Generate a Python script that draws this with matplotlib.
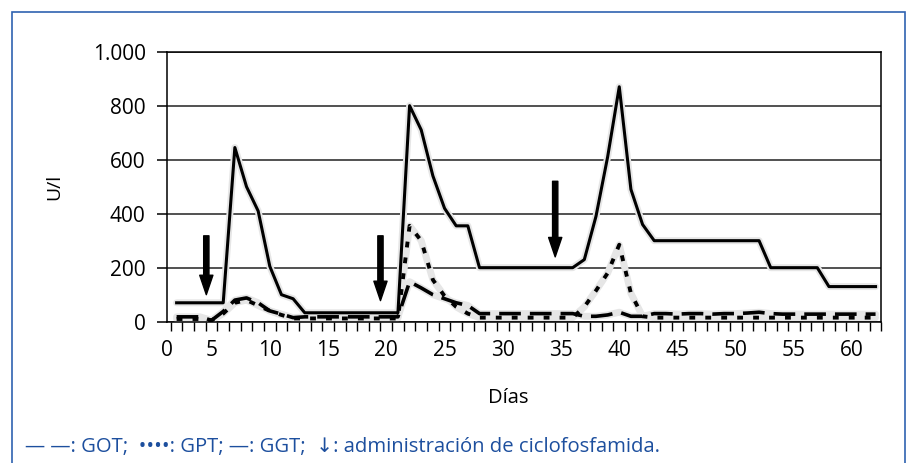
import numpy as np
import matplotlib
matplotlib.use('Agg')
import matplotlib.pyplot as plt
from matplotlib.patches import Rectangle

plt.rcParams['font.family'] = ['Open Sans', 'DejaVu Sans']

# days 2..62
dias = np.arange(2, 63)

ggt = ([70] * 5 + [645, 500, 410, 205, 100, 85] + [33] * 9
       + [800, 710, 540, 420, 355, 355] + [200] * 9
       + [230, 390, 610, 870, 490, 360] + [300] * 10 + [200] * 5 + [130] * 5)

got = ([18, 18, 18, 5, 38, 80, 88, 70, 40, 28, 15] + [18] * 9
       + [148, 125, 100, 85, 70, 60] + [30] * 9
       + [20, 20, 25, 35, 20, 20]
       + [30, 30, 28, 30, 30, 28, 30, 30, 32, 35, 30, 28, 28, 28, 28, 28, 28, 28, 28, 28])

gpt = ([10, 10, 10, 5, 30, 70, 80, 60, 40, 25, 12] + [12] * 9
       + [355, 300, 155, 95, 55, 30] + [15] * 9
       + [55, 115, 180, 285, 105, 20] + [15] * 20)

# ciclofosfamida administration arrows (day, top, tip)
flecha_dia = [4.55, 19.5, 34.5]
flecha_top = [318, 318, 520]
flecha_tip = [100, 78, 240]

yticks = [0, 200, 400, 600, 800, 1000]
ytick_labels = ['0', '200', '400', '600', '800', '1.000']
xticks = [1.15, 5, 10, 15, 20, 25, 30, 35, 40, 45, 50, 55, 60]
xtick_labels = ['0', '5', '10', '15', '20', '25', '30', '35', '40', '45', '50', '55', '60']

fig = plt.figure(figsize=(9.09, 4.63), dpi=100)
ax = fig.add_axes([0.1834, 0.3052, 0.7862, 0.5832])

halo = '#e6e6e6'
for serie in (ggt, got, gpt):
    ax.plot(dias, serie, color=halo, lw=5, solid_capstyle='round', zorder=1)

ax.plot(dias, ggt, color='black', lw=2.2, zorder=4)
ax.plot(dias, got, color='black', lw=2.6, dashes=(6, 2.5), zorder=3)
ax.plot(dias, gpt, color='black', lw=2.8, dashes=(1.5, 2.6), zorder=3)

for d, t, p in zip(flecha_dia, flecha_top, flecha_tip):
    ax.annotate('', xy=(d, p), xytext=(d, t),
                arrowprops=dict(facecolor='black', edgecolor='black',
                                width=3.8, headwidth=9.5, headlength=14, shrink=0))

ax.set_xlim(1.5, 62.5)
ax.set_ylim(0, 1000)
ax.set_yticks(yticks)
ax.set_yticklabels(ytick_labels)
ax.set_xticks(xticks)
ax.set_xticklabels(xtick_labels)
ax.set_xticks(np.arange(1.5, 63, 1), minor=True)
ax.tick_params(axis='x', which='major', length=0, pad=13, labelsize=15)
ax.tick_params(axis='x', which='minor', length=6.5, width=1, direction='out')
ax.tick_params(axis='y', length=7.2, width=1.1, direction='out', pad=8, labelsize=15)
ax.yaxis.grid(True, color='#222222', lw=1.1)
ax.set_axisbelow(True)
for s in ax.spines.values():
    s.set_linewidth(1.1)

ax.set_ylabel('U/l', fontsize=14)
ax.yaxis.set_label_coords(-0.145, 0.5)
ax.set_xlabel('Días', fontsize=14.5)
ax.xaxis.set_label_coords(0.4776, -0.245)

fig.text(0.0275, 0.0346,
         '— —: GOT;  ••••: GPT; —: GGT;  ↓: administración de ciclofosfamida.',
         color='#1d4f9e', fontsize=14.6, va='center', ha='left')

fig.patches.append(Rectangle((12 / 909, -0.1), 893 / 909, 1.074, transform=fig.transFigure,
                             fill=False, edgecolor='#2f62b0', lw=1.2))

fig.savefig('out.png', dpi=100)
